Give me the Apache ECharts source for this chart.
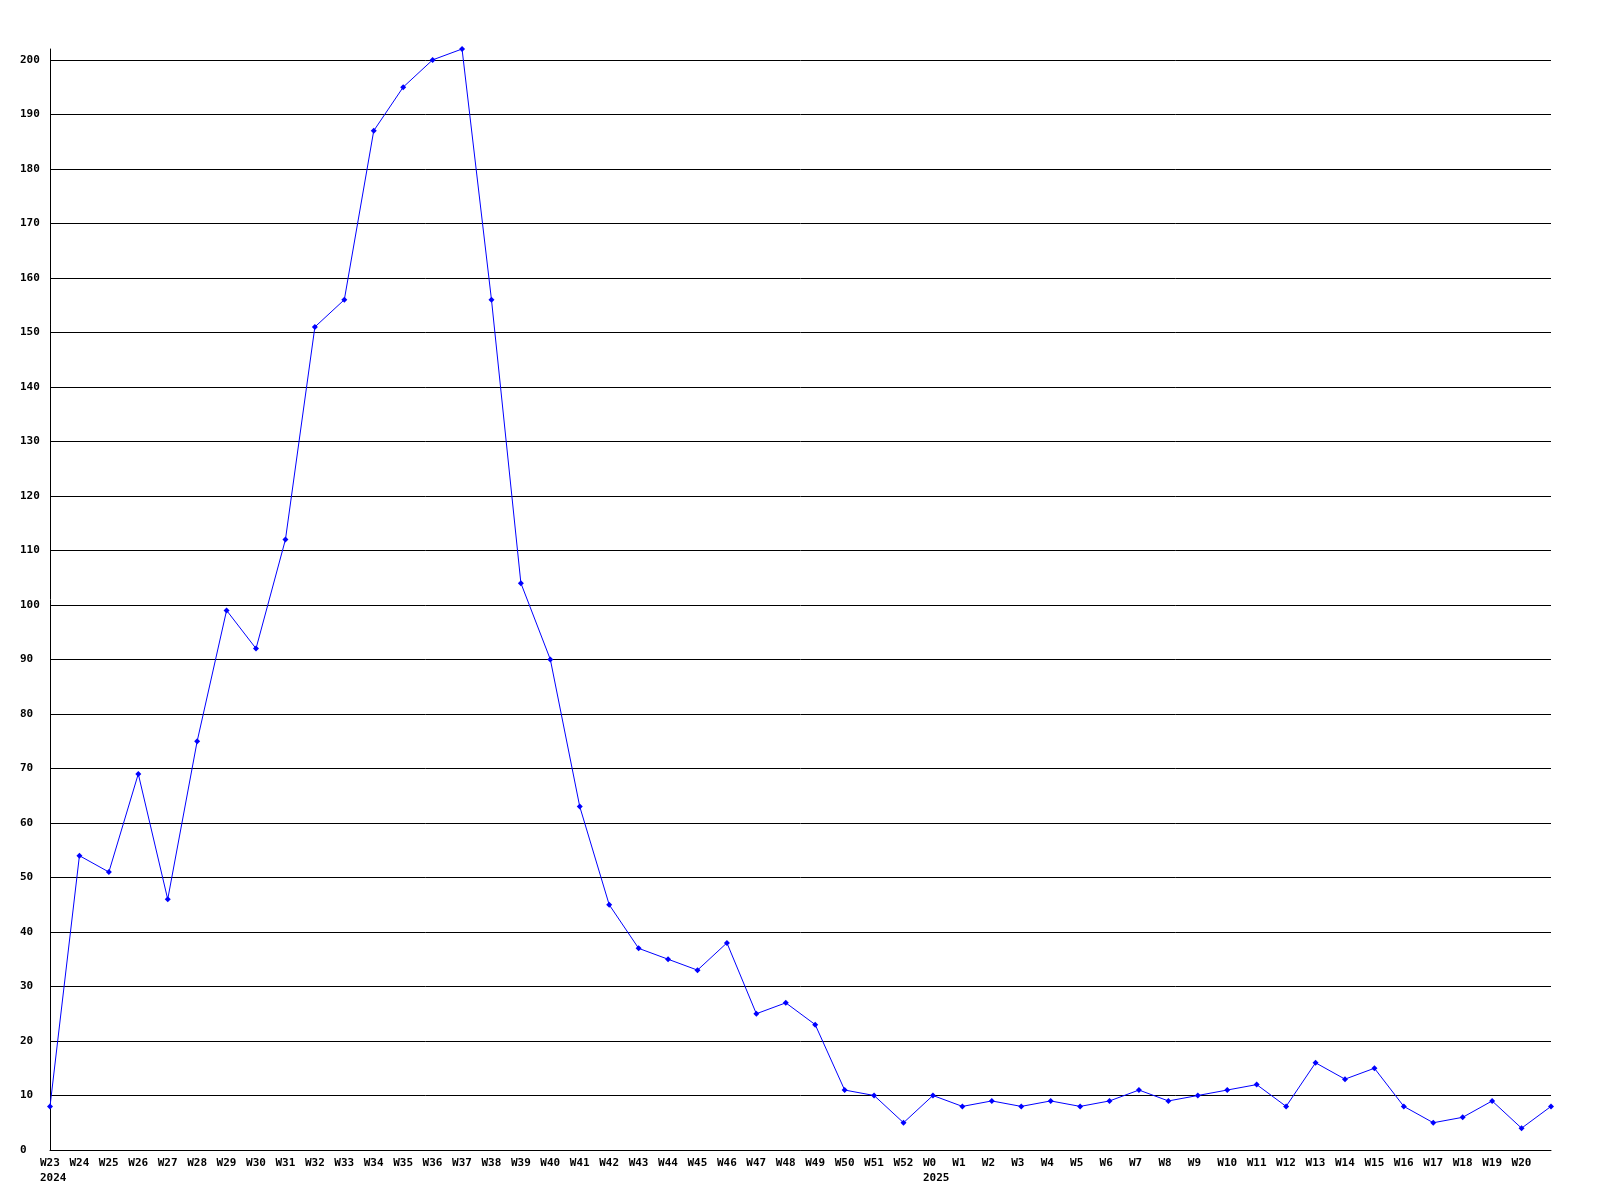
<!DOCTYPE html>
<html>
<head>
<meta charset="utf-8">
<script src="https://cdn.jsdelivr.net/npm/echarts@6/dist/echarts.min.js"></script>
<style>
html,body{margin:0;padding:0;background:#fff;}
#chart{width:1600px;height:1200px;}
</style>
</head>
<body>
<div id="chart"></div>
<script>
const weeks = ['W23','W24','W25','W26','W27','W28','W29','W30','W31','W32','W33','W34','W35','W36','W37','W38','W39','W40','W41','W42','W43','W44','W45','W46','W47','W48','W49','W50','W51','W52',
  'W0','W1','W2','W3','W4','W5','W6','W7','W8','W9','W10','W11','W12','W13','W14','W15','W16','W17','W18','W19','W20','W21'];
const yearLabels = {0: '2024', 30: '2025'};
const values = [8,54,51,69,46,75,99,92,112,151,156,187,195,200,202,156,104,90,63,45,37,35,33,38,25,27,23,11,10,5,
  10,8,9,8,9,8,9,11,9,10,11,12,8,16,13,15,8,5,6,9,4,8];
const yTicks = {min: 0, max: 202, interval: 10};

const chart = echarts.init(document.getElementById('chart'));
const font = '"DejaVu Sans Mono", "Liberation Mono", monospace';
chart.setOption({
  animation: false,
  backgroundColor: '#ffffff',
  grid: {left: 50, right: 49, top: 49, bottom: 50, containLabel: false},
  xAxis: {
    type: 'category',
    data: weeks,
    boundaryGap: false,
    axisLine: {show: true, lineStyle: {color: '#000', width: 1}},
    axisTick: {show: false},
    splitLine: {show: false},
    axisLabel: {
      interval: 0,
      margin: 6,
      align: 'left',
      padding: [0, 0, 0, -10],
      lineHeight: 15,
      color: '#000',
      fontFamily: font,
      fontWeight: 'bold',
      fontSize: 11,
      formatter: function (v, i) {
        if (i === weeks.length - 1) return '';
        return yearLabels[i] ? v + '\n' + yearLabels[i] : v;
      }
    }
  },
  yAxis: {
    type: 'value',
    min: yTicks.min,
    max: yTicks.max,
    interval: yTicks.interval,
    axisLine: {show: true, lineStyle: {color: '#000', width: 1}},
    axisTick: {show: false},
    splitLine: {show: true, showMaxLine: false, lineStyle: {color: '#000', width: 1}},
    axisLabel: {
      showMaxLabel: false,
      margin: 30,
      align: 'left',
      color: '#000',
      fontFamily: font,
      fontWeight: 'bold',
      fontSize: 11
    }
  },
  series: [{
    type: 'line',
    data: values,
    symbol: 'diamond',
    symbolSize: 6,
    showAllSymbol: true,
    lineStyle: {color: '#0000ff', width: 1},
    itemStyle: {color: '#0000ff'},
    z: 5
  }]
});
</script>
</body>
</html>
